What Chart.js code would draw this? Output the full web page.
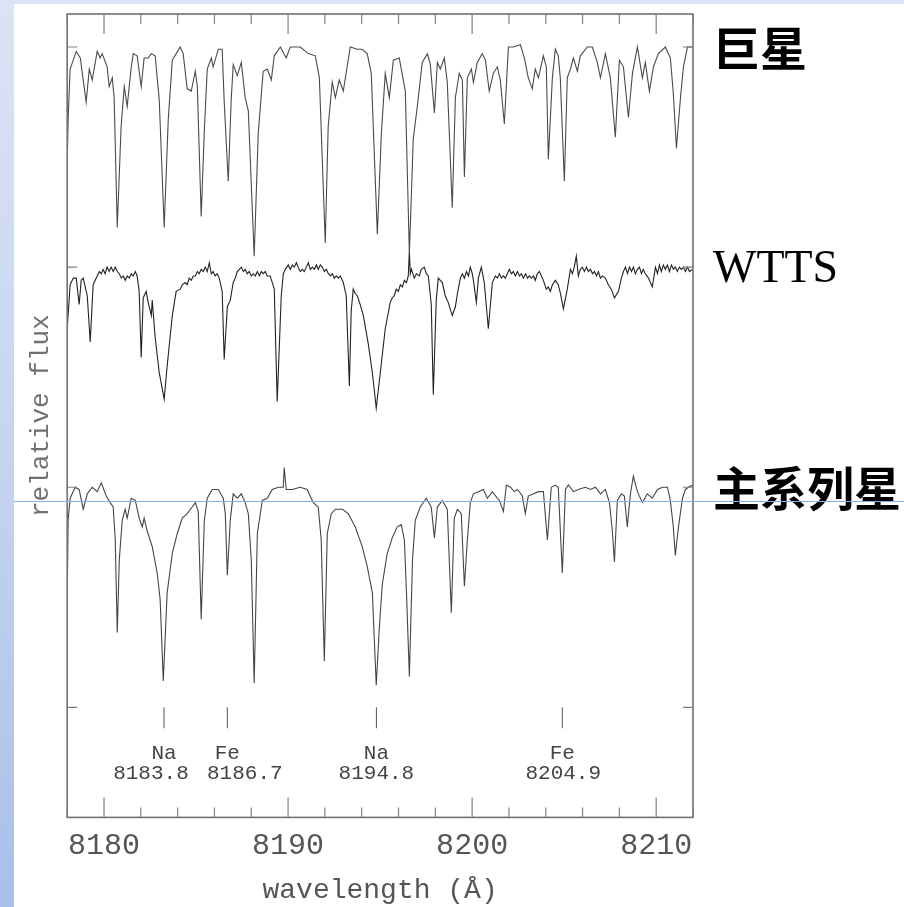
<!DOCTYPE html>
<html>
<head>
<meta charset="utf-8">
<script src="https://cdn.jsdelivr.net/npm/chart.js@4.4.1/dist/chart.umd.min.js"></script>
<style>
  html, body { margin: 0; padding: 0; }
  body {
    width: 904px; height: 907px; position: relative; overflow: hidden;
    background: linear-gradient(to bottom, #dbe4f4 0%, #c6d4ef 50%, #a9bfea 100%);
  }
  #sheet { position: absolute; left: 14px; top: 4px; right: 0; bottom: 0; background: #fff; }
  #wrap { position: absolute; left: 0; top: 0; width: 904px; height: 907px; }
  #rule { position: absolute; left: 14px; right: 0; top: 501px; height: 1px; background: #8aabf0; }
</style>
</head>
<body>
<div id="sheet"></div>
<div id="wrap"><canvas id="spec"></canvas></div>
<div id="rule"></div>
<script>
// spectra: [wavelength (A), normalised flux]
const giantFlux = [
  [8178.00,0.47],[8178.05,0.67],[8178.16,0.90],[8178.49,0.98],[8178.71,0.95],[8179.03,0.75],[8179.20,0.90],[8179.36,0.85],[8179.63,0.98],[8179.79,0.95],
  [8179.90,0.97],[8180.17,0.91],[8180.28,0.82],[8180.45,0.86],[8180.55,0.77],[8180.72,0.18],[8180.93,0.64],[8181.10,0.82],[8181.26,0.73],[8181.48,0.91],
  [8181.59,0.97],[8181.80,0.96],[8182.02,0.82],[8182.18,0.95],[8182.40,0.95],[8182.57,0.97],[8182.78,0.96],[8183.00,0.76],[8183.27,0.18],[8183.49,0.67],
  [8183.71,0.94],[8184.14,1.00],[8184.30,0.97],[8184.52,0.81],[8184.74,0.80],[8184.96,0.89],[8185.07,0.82],[8185.28,0.23],[8185.45,0.62],[8185.61,0.90],
  [8185.83,0.95],[8185.93,0.91],[8186.21,0.99],[8186.42,0.99],[8186.53,0.75],[8186.75,0.39],[8186.91,0.76],[8187.02,0.92],[8187.24,0.87],[8187.46,0.93],
  [8187.67,0.77],[8187.84,0.71],[8188.16,0.05],[8188.38,0.61],[8188.65,0.89],[8188.87,0.90],[8189.09,0.85],[8189.25,0.96],[8189.58,1.00],[8189.90,0.95],
  [8190.12,1.00],[8190.66,1.00],[8191.10,0.97],[8191.48,0.96],[8191.70,0.86],[8192.02,0.11],[8192.18,0.64],[8192.40,0.84],[8192.57,0.77],[8192.78,0.85],
  [8193.00,0.80],[8193.38,1.00],[8193.76,0.99],[8194.03,0.99],[8194.30,0.97],[8194.52,0.88],[8194.85,0.15],[8195.07,0.61],[8195.28,0.88],[8195.50,0.77],
  [8195.72,0.94],[8196.04,0.95],[8196.37,0.80],[8196.59,0.06],[8196.80,0.58],[8197.02,0.73],[8197.29,0.93],[8197.57,0.97],[8197.73,0.92],[8197.95,0.70],
  [8198.11,0.93],[8198.27,0.90],[8198.49,0.95],[8198.65,0.84],[8198.92,0.27],[8199.09,0.77],[8199.30,0.88],[8199.47,0.85],[8199.58,0.41],[8199.74,0.86],
  [8199.96,0.90],[8200.07,0.84],[8200.28,0.93],[8200.55,0.97],[8200.72,0.94],[8200.93,0.80],[8201.15,0.88],[8201.37,0.91],[8201.53,0.85],[8201.75,0.65],
  [8201.97,1.00],[8202.24,1.00],[8202.62,1.01],[8202.84,0.95],[8203.05,0.86],[8203.27,0.81],[8203.43,0.90],[8203.60,0.86],[8203.87,0.96],[8204.03,0.91],
  [8204.14,0.49],[8204.36,0.86],[8204.52,0.99],[8204.68,0.96],[8204.79,0.86],[8205.01,0.39],[8205.17,0.86],[8205.34,0.90],[8205.50,0.95],[8205.72,0.89],
  [8205.88,0.96],[8206.26,1.00],[8206.53,1.00],[8206.80,0.93],[8206.97,0.86],[8207.24,0.97],[8207.51,0.86],[8207.78,0.59],[8208.00,0.94],[8208.22,0.91],
  [8208.49,0.68],[8208.71,0.88],[8208.98,1.00],[8209.25,0.86],[8209.41,0.93],[8209.63,0.80],[8209.85,0.91],[8210.12,0.97],[8210.50,1.00],[8210.77,0.95],
  [8210.93,0.79],[8211.10,0.54],[8211.32,0.77],[8211.48,0.91],[8211.70,1.00],[8211.97,1.00]
];

const wttsFlux = [
  [8178.00,0.72],[8178.16,0.92],[8178.33,0.95],[8178.49,0.95],[8178.65,0.83],[8178.76,0.94],[8178.87,0.95],[8179.09,0.87],[8179.25,0.66],[8179.41,0.92],
  [8179.63,0.96],[8179.74,0.98],[8179.85,0.97],[8179.95,0.99],[8180.06,0.97],[8180.17,1.00],[8180.28,0.98],[8180.39,1.00],[8180.50,0.98],[8180.61,1.00],
  [8180.72,0.98],[8180.83,0.97],[8180.94,0.95],[8181.05,0.96],[8181.15,0.94],[8181.26,0.96],[8181.37,0.95],[8181.48,0.97],[8181.59,0.96],[8181.70,0.98],
  [8181.80,0.96],[8181.91,0.89],[8182.02,0.59],[8182.13,0.86],[8182.29,0.89],[8182.40,0.84],[8182.57,0.78],[8182.62,0.85],[8182.78,0.68],[8183.00,0.52],
  [8183.27,0.40],[8183.43,0.55],[8183.71,0.78],[8183.92,0.89],[8184.14,0.90],[8184.25,0.92],[8184.41,0.93],[8184.52,0.92],[8184.63,0.95],[8184.74,0.94],
  [8184.85,0.96],[8184.96,0.96],[8185.07,0.98],[8185.17,0.97],[8185.28,0.99],[8185.39,0.98],[8185.50,1.00],[8185.61,0.98],[8185.72,1.02],[8185.83,0.97],
  [8185.93,0.98],[8186.04,0.96],[8186.15,0.97],[8186.26,0.95],[8186.42,0.89],[8186.53,0.58],[8186.70,0.82],[8186.86,0.85],[8187.02,0.93],[8187.13,0.95],
  [8187.24,0.98],[8187.35,0.99],[8187.46,1.00],[8187.57,0.98],[8187.67,0.99],[8187.78,0.97],[8187.89,0.98],[8188.00,0.96],[8188.11,0.97],[8188.22,0.96],
  [8188.33,0.98],[8188.44,0.96],[8188.54,0.98],[8188.65,0.97],[8188.76,0.98],[8188.87,0.96],[8189.03,0.96],[8189.25,0.90],[8189.41,0.39],[8189.63,0.87],
  [8189.74,0.97],[8189.85,0.99],[8190.01,1.01],[8190.12,0.99],[8190.23,1.01],[8190.34,1.00],[8190.45,1.02],[8190.55,1.00],[8190.66,0.98],[8190.77,0.99],
  [8190.88,0.98],[8190.99,1.00],[8191.10,1.02],[8191.21,0.99],[8191.32,1.00],[8191.43,0.99],[8191.54,1.01],[8191.64,0.99],[8191.75,1.01],[8191.86,1.00],
  [8191.97,0.98],[8192.08,0.99],[8192.19,0.97],[8192.30,0.96],[8192.41,0.97],[8192.51,0.95],[8192.62,0.96],[8192.73,0.95],[8192.84,0.96],[8193.00,0.93],
  [8193.16,0.87],[8193.33,0.46],[8193.43,0.80],[8193.54,0.90],[8193.65,0.88],[8193.76,0.87],[8193.92,0.83],[8194.09,0.78],[8194.36,0.65],[8194.58,0.52],
  [8194.79,0.36],[8195.01,0.52],[8195.28,0.72],[8195.55,0.84],[8195.66,0.86],[8195.77,0.87],[8195.88,0.90],[8195.99,0.89],[8196.10,0.92],[8196.21,0.91],
  [8196.32,0.94],[8196.43,0.93],[8196.53,0.96],[8196.59,1.07],[8196.64,0.97],[8196.70,0.99],[8196.86,0.95],[8196.97,0.97],[8197.13,0.96],[8197.24,0.99],
  [8197.40,1.00],[8197.51,0.97],[8197.62,0.96],[8197.78,0.83],[8197.89,0.42],[8198.05,0.85],[8198.16,0.95],[8198.27,0.94],[8198.38,0.93],[8198.54,0.87],
  [8198.70,0.84],[8198.92,0.78],[8199.09,0.82],[8199.20,0.88],[8199.36,0.95],[8199.47,0.97],[8199.58,0.95],[8199.69,0.98],[8199.80,0.96],[8199.90,1.00],
  [8200.01,0.97],[8200.07,0.94],[8200.23,0.84],[8200.34,0.95],[8200.50,1.00],[8200.66,0.93],[8200.88,0.72],[8201.10,0.93],[8201.26,0.96],[8201.37,0.95],
  [8201.48,0.97],[8201.59,0.95],[8201.70,0.96],[8201.80,0.95],[8201.91,0.97],[8202.02,0.99],[8202.13,0.97],[8202.24,0.98],[8202.35,0.96],[8202.46,0.98],
  [8202.57,0.96],[8202.68,0.97],[8202.79,0.95],[8202.90,0.97],[8203.01,0.95],[8203.11,0.96],[8203.22,0.95],[8203.33,0.96],[8203.43,0.94],[8203.54,0.97],
  [8203.65,0.98],[8203.71,0.97],[8203.87,0.94],[8204.03,0.90],[8204.14,0.91],[8204.25,0.89],[8204.36,0.92],[8204.52,0.94],[8204.68,0.92],[8204.80,0.88],
  [8204.96,0.81],[8205.17,0.90],[8205.34,0.99],[8205.45,0.97],[8205.55,1.00],[8205.66,1.05],[8205.77,0.96],[8205.88,0.99],[8205.99,1.00],[8206.10,0.98],
  [8206.21,1.00],[8206.32,0.98],[8206.43,0.99],[8206.54,0.97],[8206.65,0.98],[8206.76,0.96],[8206.86,0.98],[8206.97,0.95],[8207.08,0.96],[8207.24,0.95],
  [8207.40,0.92],[8207.56,0.90],[8207.73,0.86],[8207.95,0.89],[8208.11,0.95],[8208.22,0.98],[8208.33,1.00],[8208.44,0.97],[8208.55,1.00],[8208.66,0.98],
  [8208.76,1.00],[8208.87,0.97],[8208.98,0.99],[8209.09,1.00],[8209.20,0.97],[8209.30,0.99],[8209.41,0.97],[8209.58,0.95],[8209.79,0.91],[8209.96,1.00],
  [8210.07,0.97],[8210.18,1.01],[8210.28,0.98],[8210.39,1.01],[8210.50,0.99],[8210.61,1.01],[8210.72,0.98],[8210.83,1.01],[8210.94,0.99],[8211.04,1.00],
  [8211.15,0.98],[8211.26,1.00],[8211.37,0.99],[8211.48,1.00],[8211.59,0.98],[8211.70,1.00],[8211.81,0.98],[8211.97,0.99]
];

const dwarfFlux = [
  [8178.00,0.49],[8178.05,0.85],[8178.16,0.95],[8178.43,1.00],[8178.65,0.99],[8178.87,0.90],[8179.09,0.97],[8179.36,1.00],[8179.63,0.98],[8179.85,1.02],
  [8180.12,0.96],[8180.34,0.93],[8180.50,0.91],[8180.61,0.76],[8180.72,0.34],[8180.83,0.67],[8180.99,0.85],[8181.15,0.90],[8181.26,0.86],[8181.48,0.95],
  [8181.70,0.94],[8181.91,0.86],[8182.08,0.82],[8182.18,0.86],[8182.35,0.80],[8182.62,0.73],[8182.89,0.61],[8183.05,0.49],[8183.22,0.12],[8183.43,0.52],
  [8183.71,0.70],[8183.98,0.79],[8184.25,0.86],[8184.52,0.88],[8184.79,0.91],[8184.96,0.93],[8185.12,0.89],[8185.28,0.40],[8185.45,0.85],[8185.61,0.95],
  [8185.88,0.99],[8186.21,0.99],[8186.48,0.95],[8186.59,0.88],[8186.70,0.60],[8186.86,0.85],[8187.02,0.97],[8187.24,0.95],[8187.46,0.97],[8187.67,0.93],
  [8187.84,0.88],[8188.00,0.67],[8188.16,0.11],[8188.33,0.79],[8188.60,0.94],[8188.87,0.95],[8189.14,0.99],[8189.47,1.00],[8189.74,1.00],[8189.79,1.09],
  [8189.90,0.99],[8190.23,0.99],[8190.66,1.00],[8191.04,0.99],[8191.37,0.93],[8191.64,0.91],[8191.80,0.76],[8191.97,0.21],[8192.13,0.79],[8192.35,0.88],
  [8192.57,0.90],[8192.95,0.90],[8193.27,0.88],[8193.65,0.82],[8194.03,0.73],[8194.30,0.64],[8194.58,0.52],[8194.79,0.10],[8194.95,0.35],[8195.12,0.56],
  [8195.39,0.70],[8195.66,0.77],[8195.93,0.82],[8196.15,0.83],[8196.32,0.76],[8196.43,0.53],[8196.59,0.14],[8196.76,0.67],[8196.91,0.85],[8197.18,0.91],
  [8197.51,0.95],[8197.78,0.91],[8197.95,0.77],[8198.11,0.91],[8198.38,0.94],[8198.65,0.90],[8198.87,0.43],[8199.03,0.86],[8199.20,0.90],[8199.41,0.88],
  [8199.58,0.55],[8199.74,0.76],[8199.90,0.93],[8200.07,0.97],[8200.34,0.98],[8200.61,0.99],[8200.83,0.95],[8201.10,0.98],[8201.37,0.95],[8201.48,0.94],
  [8201.70,0.89],[8201.86,1.01],[8202.08,1.00],[8202.29,0.98],[8202.46,0.99],[8202.73,0.96],[8202.89,0.88],[8203.05,0.96],[8203.33,0.97],[8203.60,0.98],
  [8203.87,0.98],[8204.09,0.76],[8204.30,1.00],[8204.52,1.01],[8204.68,1.00],[8204.90,0.61],[8205.07,0.99],[8205.23,1.01],[8205.50,0.98],[8205.77,0.99],
  [8206.15,1.00],[8206.42,0.99],[8206.70,1.00],[8206.97,0.97],[8207.24,0.99],[8207.46,0.93],[8207.62,0.80],[8207.73,0.66],[8207.89,0.94],[8208.11,0.97],
  [8208.27,0.96],[8208.43,0.82],[8208.60,0.97],[8208.76,1.05],[8208.98,0.98],[8209.25,0.93],[8209.52,0.97],[8209.79,0.95],[8210.07,0.99],[8210.34,1.00],
  [8210.61,1.00],[8210.77,0.94],[8210.93,0.82],[8211.04,0.69],[8211.21,0.82],[8211.43,0.95],[8211.59,0.99],[8211.75,1.00],[8211.97,1.01]
];

const starNames = ['巨星', 'WTTS', '主系列星'];
const starOffsets = [2, 1, 0];
const lineColors = ['#4a4a4a', '#222222', '#454545'];

const xTickValues = [8180, 8190, 8200, 8210];
const yTickValues = [0, 1, 2, 3];

const markElements = ['Na', 'Fe', 'Na', 'Fe'];
const markWaves = [8183.26, 8186.7, 8194.8, 8204.9];
const markLabels = ['8183.8', '8186.7', '8194.8', '8204.9'];
const markLabelWaves = [8182.55, 8187.65, 8194.8, 8204.95];

const spectra = [giantFlux, wttsFlux, dwarfFlux];

const framePlugin = {
  id: 'frame',
  afterDraw(chart) {
    const ctx = chart.ctx;
    const a = chart.chartArea;
    const x = chart.scales.x;
    const y = chart.scales.y;
    ctx.save();

    // box
    ctx.strokeStyle = '#707070';
    ctx.lineWidth = 1.6;
    ctx.strokeRect(a.left, a.top, a.right - a.left, a.bottom - a.top);

    // ticks, inward
    ctx.lineWidth = 1.2;
    ctx.strokeStyle = '#808080';
    ctx.beginPath();
    for (let v = Math.ceil(x.min / 2) * 2; v <= x.max; v += 2) {
      const px = x.getPixelForValue(v);
      const len = v % 10 === 0 ? 20 : 10;
      ctx.moveTo(px, a.bottom); ctx.lineTo(px, a.bottom - len);
      ctx.moveTo(px, a.top); ctx.lineTo(px, a.top + len);
    }
    yTickValues.forEach(v => {
      const py = y.getPixelForValue(v);
      ctx.moveTo(a.left, py); ctx.lineTo(a.left + 10, py);
      ctx.moveTo(a.right, py); ctx.lineTo(a.right - 10, py);
    });
    ctx.stroke();

    // line identifications
    ctx.strokeStyle = '#555';
    ctx.lineWidth = 1;
    ctx.fillStyle = '#444';
    ctx.textAlign = 'center';
    ctx.textBaseline = 'middle';
    ctx.font = '21px "Liberation Mono"';
    markWaves.forEach((w, i) => {
      const px = x.getPixelForValue(w);
      ctx.beginPath();
      ctx.moveTo(px, y.getPixelForValue(0));
      ctx.lineTo(px, y.getPixelForValue(-0.095));
      ctx.stroke();
      ctx.fillText(markElements[i], px, y.getPixelForValue(-0.21));
      ctx.fillText(markLabels[i], x.getPixelForValue(markLabelWaves[i]), y.getPixelForValue(-0.30));
    });

    // star type labels
    ctx.fillStyle = '#000';
    ctx.textAlign = 'left';
    starNames.forEach((name, i) => {
      const py = y.getPixelForValue(starOffsets[i] + 1);
      if (name === 'WTTS') {
        ctx.font = '46px "Liberation Serif"';
        ctx.fillText(name, a.right + 20, py + 3);
      } else {
        ctx.font = 'bold 47px "Noto Sans CJK SC"';
        ctx.fillText(name, a.right + 20, py + 1);
      }
    });
    ctx.restore();
  }
};

const chart = new Chart(document.getElementById('spec'), {
  type: 'line',
  data: {
    datasets: spectra.map((s, i) => ({
      label: starNames[i],
      data: s.map(p => ({x: p[0], y: p[1] + starOffsets[i]})),
      borderColor: lineColors[i],
      borderWidth: 1.1,
      pointRadius: 0,
      tension: 0,
      fill: false
    }))
  },
  options: {
    responsive: true,
    maintainAspectRatio: false,
    animation: false,
    events: [],
    layout: {padding: {left: 0, top: 14, right: 211, bottom: 0}},
    plugins: {legend: {display: false}, tooltip: {enabled: false}},
    scales: {
      x: {
        type: 'linear',
        min: 8178,
        max: 8212,
        afterBuildTicks: s => { s.ticks = xTickValues.map(v => ({value: v})); },
        grid: {display: false, drawTicks: false},
        border: {display: false},
        ticks: {
          font: {family: 'Liberation Mono', size: 30},
          color: '#555',
          padding: 11,
          maxRotation: 0,
          autoSkip: false,
          callback: v => String(v)
        },
        title: {
          display: true,
          text: 'wavelength (Å)',
          font: {family: 'Liberation Mono', size: 28},
          color: '#555',
          padding: {top: -2, bottom: 0}
        }
      },
      y: {
        type: 'linear',
        min: -0.5,
        max: 3.15,
        afterBuildTicks: s => { s.ticks = yTickValues.map(v => ({value: v})); },
        grid: {display: false, drawTicks: false},
        border: {display: false},
        ticks: {display: false},
        title: {
          display: true,
          text: 'relative flux',
          font: {family: 'Liberation Mono', size: 26},
          color: '#707070',
          padding: {top: 26, bottom: 10}
        }
      }
    }
  },
  plugins: [framePlugin]
});
</script>
</body>
</html>
